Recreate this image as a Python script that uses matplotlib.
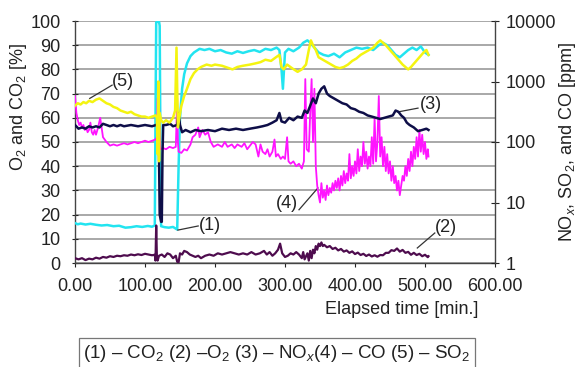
import matplotlib
matplotlib.use("Agg")
import matplotlib.pyplot as plt
import numpy as np

plt.rcParams['font.family'] = ['Liberation Sans', 'DejaVu Sans']
plt.rcParams['mathtext.fontset'] = 'custom'
plt.rcParams['mathtext.rm'] = 'Liberation Sans'
plt.rcParams['mathtext.it'] = 'Liberation Sans:italic'

# ---------------- data ----------------
# (1) CO2 [%]  (left axis)
t_co2 = [0, 4, 8, 15, 22, 30, 38, 46, 55, 63,
         72, 80, 88, 96, 104, 110, 114, 115, 116, 120,
         121, 122, 123, 128, 134, 140, 144, 146, 148, 150,
         153, 156, 160, 165, 170, 178, 185, 192, 200, 208,
         216, 224, 232, 240, 248, 256, 264, 272, 280, 288,
         292, 295, 297, 300, 305, 312, 320, 326, 332, 336,
         342, 348, 355, 362, 370, 378, 386, 394, 402, 410,
         418, 426, 434, 440, 446, 452, 458, 464, 470, 476,
         482, 488, 494, 500, 505]
v_co2 = [16.5, 16.0, 16.3, 15.9, 16.2, 15.8, 15.5, 15.7, 15.2, 15.4,
         14.6, 14.8, 15.2, 14.9, 15.3, 15.0, 15.5, 60.0, 99.5, 99.8,
         98.0, 50.0, 15.2, 14.8, 14.6, 14.9, 14.2, 13.8, 40.0, 60.0,
         72.0, 78.0, 82.5, 85.5, 87.0, 88.5, 88.0, 88.5, 87.5, 88.0,
         87.0, 86.5, 87.5, 86.8, 87.5, 88.0, 87.2, 88.5, 88.0, 89.0,
         88.0, 80.0, 72.0, 87.0, 88.5, 87.5, 89.0, 91.0, 92.0, 91.0,
         89.0, 87.0, 86.0, 85.5, 86.5, 85.0, 87.0, 88.0, 89.0, 88.5,
         89.0, 88.0, 90.0, 91.0, 90.0, 88.0, 86.0, 85.0, 86.5, 88.0,
         89.0, 88.0, 89.5, 87.0, 86.0]

# (2) O2 [%]  (left axis)
t_o2 = [0, 5, 10, 15, 20, 25, 30, 35, 40, 45,
        50, 55, 60, 65, 70, 75, 80, 85, 90, 95,
        100, 105, 110, 114, 115, 116, 117, 118, 120, 124,
        128, 132, 136, 140, 144, 146, 148, 150, 153, 156,
        160, 164, 168, 172, 176, 180, 186, 192, 198, 204,
        210, 216, 222, 228, 234, 240, 246, 252, 258, 264,
        270, 274, 278, 282, 286, 290, 293, 296, 300, 304,
        308, 312, 316, 320, 324, 326, 328, 332, 334, 336,
        338, 340, 342, 344, 346, 348, 350, 352, 354, 356,
        360, 364, 368, 372, 376, 380, 384, 388, 392, 396,
        400, 404, 408, 412, 416, 420, 424, 428, 432, 436,
        440, 444, 448, 452, 456, 460, 464, 468, 472, 476,
        480, 484, 488, 492, 496, 500, 504, 505]
v_o2 = [2.0, 1.5, 2.0, 1.2, 1.8, 1.5, 2.2, 1.8, 2.5, 2.2,
        2.8, 2.5, 3.0, 2.8, 3.2, 3.0, 3.5, 3.2, 3.6, 3.3,
        3.8, 3.5, 3.2, 3.4, 1.0, 15.5, 2.0, 1.0, 3.0, 3.5,
        2.5, 4.0, 3.5, 2.0, 3.0, 0.5, 0.3, 4.0, 3.5, 5.0,
        4.5, 3.5, 3.0, 2.5, 3.0, 2.0, 3.0, 3.5, 3.0, 4.0,
        3.5, 4.0, 4.5, 4.0, 3.5, 4.0, 3.5, 4.5, 3.5, 4.0,
        5.0, 3.5, 4.5, 3.0, 4.0, 5.5, 8.0, 4.0, 2.5, 3.0,
        4.0, 3.5, 4.5, 3.5, 2.0, 4.5, 1.5, 4.0, 1.0, 5.0,
        2.0, 5.5, 4.0, 7.0, 5.5, 8.0, 7.0, 8.5, 7.0, 7.5,
        6.5, 7.0, 5.8, 6.3, 5.2, 5.8, 4.7, 5.2, 4.2, 4.8,
        3.7, 4.3, 3.3, 3.8, 2.9, 3.5, 2.7, 3.2, 2.6, 3.3,
        3.2, 4.2, 4.2, 5.3, 5.0, 6.0, 4.7, 5.4, 4.2, 4.6,
        3.4, 4.2, 3.3, 3.8, 2.8, 3.4, 2.4, 2.8]

# (3) NOx [ppm]  (right axis)
t_nox = [0, 5, 10, 15, 20, 25, 30, 35, 40, 45,
         50, 55, 60, 65, 70, 80, 90, 100, 110, 116,
         119, 120, 121, 123, 124, 125, 126, 130, 136, 140,
         146, 148, 150, 153, 158, 165, 172, 180, 190, 200,
         210, 220, 230, 240, 250, 260, 268, 275, 282, 288,
         292, 295, 300, 306, 312, 318, 324, 328, 332, 336,
         340, 344, 348, 352, 356, 360, 364, 370, 376, 382,
         388, 394, 400, 406, 412, 418, 424, 430, 436, 442,
         448, 454, 458, 462, 466, 470, 474, 478, 484, 490,
         496, 502, 505]
v_nox = [191, 166, 174, 166, 182, 174, 182, 174, 200, 191,
         182, 191, 182, 191, 182, 191, 182, 191, 182, 191,
         209, 63, 6.3, 4.8, 4.8, 63, 191, 191, 200, 182,
         191, 302, 191, 145, 158, 145, 158, 151, 158, 151,
         166, 158, 166, 158, 166, 174, 182, 191, 209, 229,
         302, 219, 209, 251, 229, 263, 251, 331, 302, 398,
         525, 437, 631, 759, 832, 631, 575, 525, 479, 437,
         417, 363, 347, 316, 302, 275, 263, 251, 240, 251,
         263, 275, 331, 316, 275, 251, 209, 191, 174, 151,
         158, 166, 158]

# (4) CO [ppm]  (right axis)
t_co = [0, 2, 4, 6, 8, 10, 12, 14, 16, 18,
        20, 22, 24, 26, 28, 30, 33, 36, 40, 45,
        50, 55, 60, 65, 70, 75, 80, 85, 90, 95,
        100, 105, 110, 115, 117, 118, 120, 121, 122, 126,
        130, 135, 140, 144, 146, 147, 148, 152, 156, 160,
        165, 168, 172, 176, 178, 182, 186, 190, 194, 198,
        204, 210, 214, 218, 224, 228, 232, 238, 242, 246,
        250, 254, 258, 262, 265, 268, 272, 275, 278, 282,
        285, 287, 290, 294, 297, 300, 303, 305, 308, 312,
        316, 320, 324, 327, 329, 331, 334, 336, 338, 340,
        342, 344, 346, 348, 350, 352, 354, 356, 358, 360,
        362, 364, 366, 368, 370, 372, 374, 376, 378, 380,
        382, 384, 386, 388, 390, 392, 394, 396, 398, 400,
        402, 404, 406, 408, 410, 412, 414, 416, 418, 420,
        422, 424, 426, 428, 430, 432, 434, 436, 438, 440,
        442, 444, 446, 448, 450, 452, 454, 456, 458, 460,
        462, 464, 466, 468, 470, 472, 474, 476, 478, 480,
        482, 484, 486, 488, 490, 492, 494, 496, 498, 500,
        502, 504, 505]
v_co = [575, 302, 229, 191, 209, 174, 191, 158, 174, 145,
        158, 209, 145, 132, 158, 132, 174, 251, 120, 100,
        87.1, 91.2, 87.1, 91.2, 95.5, 91.2, 95.5, 100, 95.5, 100,
        105, 100, 105, 110, 120, 525, 525, 120, 75.9, 79.4,
        75.9, 83.2, 79.4, 83.2, 525, 100, 69.2, 66.1, 75.9, 72.4,
        91.2, 120, 132, 174, 120, 158, 132, 145, 100, 83.2,
        91.2, 83.2, 100, 83.2, 91.2, 79.4, 91.2, 83.2, 95.5, 75.9,
        87.1, 100, 91.2, 57.5, 91.2, 69.2, 63.1, 75.9, 57.5, 69.2,
        110, 57.5, 63.1, 52.5, 57.5, 52.5, 120, 47.9, 43.7, 47.9,
        39.8, 43.7, 36.3, 47.9, 1096, 75.9, 69.2, 302, 1096, 100,
        759, 39.8, 19.1, 13.2, 10.0, 20.9, 12.0, 15.8, 11.0, 19.1,
        13.2, 17.4, 14.5, 20.9, 15.8, 22.9, 17.4, 25.1, 15.8, 27.5,
        19.1, 33.1, 20.9, 30.2, 22.9, 63.1, 25.1, 39.8, 27.5, 47.9,
        30.2, 75.9, 33.1, 57.5, 39.8, 100, 43.7, 69.2, 36.3, 57.5,
        39.8, 120, 43.7, 251, 47.9, 100, 575, 57.5, 120, 39.8,
        83.2, 33.1, 63.1, 30.2, 47.9, 22.9, 39.8, 20.9, 27.5, 15.8,
        22.9, 13.2, 19.1, 27.5, 22.9, 39.8, 27.5, 52.5, 33.1, 69.2,
        39.8, 83.2, 52.5, 120, 57.5, 158, 69.2, 132, 63.1, 100,
        52.5, 75.9, 57.5]

# (5) SO2 [ppm]  (right axis)
t_so2 = [0, 4, 8, 12, 16, 20, 25, 30, 35, 40,
         45, 50, 55, 60, 65, 70, 75, 80, 85, 90,
         95, 100, 105, 110, 115, 117, 118, 119, 120, 121,
         123, 126, 130, 135, 140, 143, 145, 147, 149, 152,
         156, 160, 165, 170, 175, 180, 188, 195, 200, 210,
         220, 225, 232, 240, 250, 258, 265, 272, 280, 287,
         292, 295, 298, 303, 310, 318, 324, 330, 334, 337,
         340, 344, 348, 354, 360, 366, 372, 378, 384, 390,
         396, 402, 408, 414, 420, 426, 432, 436, 440, 444,
         450, 456, 462, 468, 472, 476, 480, 486, 492, 498,
         502, 505]
v_so2 = [398, 437, 417, 457, 437, 479, 457, 501, 525, 479,
         437, 417, 380, 363, 331, 316, 302, 316, 288, 275,
         263, 263, 251, 263, 275, 251, 63, 1000, 48, 302,
         229, 209, 229, 209, 251, 331, 3631, 174, 251, 398,
         575, 759, 1096, 1380, 1585, 1738, 1905, 1820, 1905, 1820,
         1660, 1585, 1738, 1820, 1905, 1995, 2089, 2291, 2188, 2512,
         2754, 1738, 1585, 1905, 1660, 1445, 1585, 1905, 3311, 4786,
         3981, 3311, 2512, 2291, 2089, 1905, 1738, 1660, 1738, 1905,
         2188, 2399, 2754, 3020, 3311, 3631, 4365, 4786, 4365, 3981,
         3311, 2754, 2291, 1905, 1738, 1585, 1738, 2089, 2512, 3020,
         3311, 2754]

x_ticks = [0, 100, 200, 300, 400, 500, 600]
left_ticks = [0, 10, 20, 30, 40, 50, 60, 70, 80, 90, 100]
right_ticks = [1, 10, 100, 1000, 10000]
right_tick_labels = ['1', '10', '100', '1000', '10000']

# ---------------- figure ----------------
fig = plt.figure(figsize=(5.77, 3.67), dpi=100)
ax = fig.add_axes([75/577, 1 - 263/367, 420/577, 242/367])
ax2 = ax.twinx()

FS = 13
c_cyan = '#22E4F0'
c_yellow = '#F4F410'
c_mag = '#FF14FF'
c_navy = '#0E0E48'
c_purp = '#4E0C4E'

ax.plot(t_co2, v_co2, color=c_cyan, lw=1.8, zorder=3)
ax.plot(t_o2, v_o2, color=c_purp, lw=1.6, zorder=4)
ax2.plot(t_co, v_co, color=c_mag, lw=1.3, zorder=3)
ax2.plot(t_nox, v_nox, color=c_navy, lw=1.8, zorder=4)
ax2.plot(t_so2, v_so2, color=c_yellow, lw=1.8, zorder=5)

ax.set_xlim(0, 600)
ax.set_ylim(0, 100)
ax2.set_yscale('log')
ax2.set_ylim(1, 10000)

ax.set_xticks(x_ticks)
ax.set_xticklabels([f'{v:.2f}' for v in x_ticks], fontsize=FS)
ax.set_yticks(left_ticks)
ax.set_yticklabels([str(v) for v in left_ticks], fontsize=FS)
ax2.set_yticks(right_ticks)
ax2.set_yticklabels(right_tick_labels, fontsize=FS)
ax2.yaxis.set_minor_locator(matplotlib.ticker.NullLocator())

ax.grid(axis='y', color='#9a9a9a', lw=1.2)
ax.set_axisbelow(True)

for a in (ax, ax2):
    a.spines['top'].set_visible(False)
    for s in ('left', 'right', 'bottom'):
        a.spines[s].set_color('#444444')
        a.spines[s].set_linewidth(1.0)
ax.spines['right'].set_visible(False)
ax2.spines['left'].set_visible(False)
ax2.spines['bottom'].set_visible(False)

ax.tick_params(axis='y', direction='inout', length=5, width=0.8, pad=8, colors='#222222')
ax.tick_params(axis='x', direction='out', length=3, width=0.8, pad=8, colors='#222222')
ax2.tick_params(axis='y', direction='inout', length=6, width=0.8, pad=5, colors='#222222')

# axis labels
fig.text(19/577, 1 - 107/367, r'O$_2$ and CO$_2$ [%]', rotation=90,
         ha='center', va='center', fontsize=FS, color='#222222')
fig.text(568/577, 1 - 142/367, r'NO$_x$, SO$_2$, and CO [ppm]', rotation=90,
         ha='center', va='center', fontsize=FS, color='#222222')
fig.text(402/577, 1 - 310/367, 'Elapsed time [min.]',
         ha='center', va='center', fontsize=FS, color='#222222')

# series annotations (left-axis units)
ann = [('(5)', (21, 68), (53, 73.5), (69, 75)),
       ('(1)', (147, 13.6), (176, 15.3), (193, 15.3)),
       ('(3)', (461, 62.4), (490, 64), (509, 65.7)),
       ('(4)', (347, 31), (320, 22), (303, 24.4)),
       ('(2)', (489, 6.2), (514, 12.4), (530, 14.5))]
for lab, p0, p1, pt in ann:
    ax.plot([p0[0], p1[0]], [p0[1], p1[1]], color='#333333', lw=0.9, zorder=6, clip_on=False)
    ax.text(pt[0], pt[1], lab, ha='center', va='center', fontsize=FS, color='#222222', zorder=7)

# legend box
fig.text(277/577, 1 - 353/367,
         r'(1) – CO$_2$ (2) –O$_2$ (3) – NO$_x$(4) – CO (5) – SO$_2$',
         ha='center', va='center', fontsize=13.5, color='#222222',
         bbox=dict(boxstyle='square,pad=0.22', fc='white', ec='#777777', lw=0.9))

fig.savefig('out.png', dpi=100)
